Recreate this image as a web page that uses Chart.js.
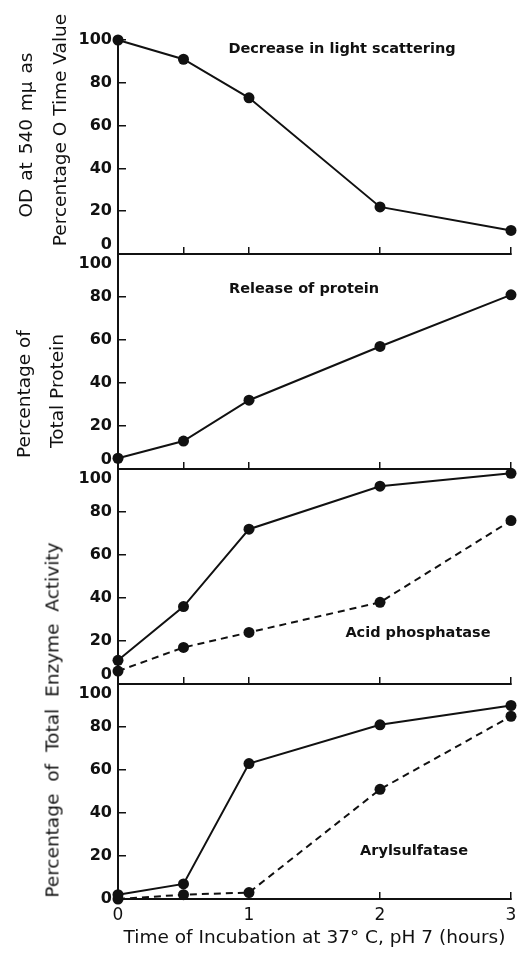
<!DOCTYPE html>
<html>
<head>
<meta charset="utf-8">
<script src="https://cdn.jsdelivr.net/npm/chart.js@4.4.1/dist/chart.umd.min.js"></script>
<style>
  html, body { margin: 0; padding: 0; background: #fff; }
  #wrap { position: relative; width: 524px; height: 958px; overflow: hidden; }
  #wrap canvas { position: absolute; left: 0; top: 0; }
  .ytitle {
    position: absolute;
    font: 18.5px "DejaVu Sans", sans-serif;
    color: #111;
    white-space: nowrap;
    transform: translate(-50%, -50%) rotate(-90deg);
  }
</style>
</head>
<body>
<div id="wrap">
  <canvas id="p1" width="524" height="958"></canvas>
  <canvas id="p2" width="524" height="958"></canvas>
  <canvas id="p3" width="524" height="958"></canvas>
  <canvas id="p4" width="524" height="958"></canvas>
  <div class="ytitle" style="left:25px; top:135px; word-spacing:2px">OD at 540 mμ as</div>
  <div class="ytitle" style="left:59px; top:130px">Percentage O Time Value</div>
  <div class="ytitle" style="left:23px; top:394px">Percentage of</div>
  <div class="ytitle" style="left:56px; top:391px">Total Protein</div>
  <div class="ytitle" style="left:52px; top:720px; word-spacing:6px">Percentage of Total Enzyme Activity</div>
</div>
<script>
// ========== DATA ==========
const hours = [0, 0.5, 1, 2, 3];
const xTicks = [0, 0.5, 1, 2, 3];
const xTickLabels = ['0', '', '1', '2', '3'];

const lightScattering = [100, 91, 73, 22, 11];
const proteinReleased = [5, 13, 32, 57, 81];
const acidPhosSolid = [11, 36, 72, 92, 98];
const acidPhosDashed = [6, 17, 24, 38, 76];
const arylSolid = [2, 7, 63, 81, 90];
const arylDashed = [0, 2, 3, 51, 85];

// ========== HELPERS ==========
Chart.defaults.font.family = "'DejaVu Sans', sans-serif";
Chart.defaults.color = '#111';

const INK = '#111';
const W = 524, H = 958;
const LEFT = 118, RIGHT = 511;

// text written inside a panel, placed at data coordinates
const notesPlugin = {
  id: 'notes',
  afterDatasetsDraw(chart, args, opts) {
    if (!opts.text) return;
    const { ctx, scales: { x, y } } = chart;
    ctx.save();
    ctx.font = 'bold 14.5px "DejaVu Sans"';
    ctx.fillStyle = INK;
    ctx.textAlign = 'center';
    ctx.textBaseline = 'middle';
    ctx.fillText(opts.text, x.getPixelForValue(opts.x), y.getPixelForValue(opts.y));
    ctx.restore();
  }
};

function series(values, dashed) {
  return {
    data: hours.map((h, i) => ({ x: h, y: values[i] })),
    borderColor: INK,
    backgroundColor: INK,
    borderWidth: 2,
    borderDash: dashed ? [7, 5] : [],
    pointRadius: 5.5,
    pointHoverRadius: 5.5,
    pointBorderWidth: 0,
    tension: 0,
    clip: false
  };
}

// make one stacked panel; top/bottom are pixel rows of the plot area
function makePanel(id, top, bottom, datasets, note, opts) {
  const isLast = !!opts.last;
  const xHeight = isLast ? H - bottom : 0;
  new Chart(document.getElementById(id), {
    type: 'line',
    data: { datasets },
    options: {
      responsive: false,
      animation: false,
      events: [],
      layout: { padding: { top: top, left: 0, right: W - RIGHT, bottom: H - bottom - xHeight } },
      plugins: { legend: { display: false }, tooltip: { enabled: false }, notes: note },
      scales: {
        x: {
          type: 'linear',
          min: 0,
          max: 3,
          afterBuildTicks: s => { s.ticks = xTicks.map(v => ({ value: v })); },
          afterFit: s => {
            s.height = xHeight;
            s.paddingLeft = 0;
            s.paddingRight = 0;
          },
          border: { display: true, color: INK, width: 2 },
          grid: { drawOnChartArea: false, drawTicks: true, tickLength: -7, color: INK, lineWidth: 1.5 },
          ticks: {
            padding: 13,
            color: INK,
            font: { size: 17 },
            maxRotation: 0,
            autoSkip: false,
            callback: (v, i) => isLast ? xTickLabels[i] : ''
          },
          title: {
            display: isLast,
            text: 'Time of Incubation at 37° C, pH 7 (hours)',
            color: INK,
            font: { size: 18.5 },
            padding: { top: 0, bottom: 9 }
          }
        },
        y: {
          min: 0,
          max: 100,
          afterFit: s => { s.width = LEFT; },
          border: { display: true, color: INK, width: 2 },
          grid: { drawOnChartArea: false, drawTicks: true, tickLength: -8, color: INK, lineWidth: 1.5 },
          ticks: {
            stepSize: 20,
            padding: 14,
            color: INK,
            font: { size: 16, weight: 'bold' },
            callback: v => {
              // nudge the labels that meet the next panel apart
              if (v === 100 && opts.shiftTop) return ['', '100'];
              if (v === 0 && opts.shiftBottom) return ['0', ''];
              return String(v);
            }
          }
        }
      }
    },
    plugins: [notesPlugin]
  });
}

makePanel('p1', 40, 254, [series(lightScattering, false)],
  { text: 'Decrease in light scattering', x: 1.71, y: 95.5 },
  { shiftBottom: true });

makePanel('p2', 254, 469, [series(proteinReleased, false)],
  { text: 'Release of protein', x: 1.42, y: 83.5 },
  { shiftTop: true, shiftBottom: true });

makePanel('p3', 469, 684, [series(acidPhosSolid, false), series(acidPhosDashed, true)],
  { text: 'Acid phosphatase', x: 2.29, y: 23.5 },
  { shiftTop: true, shiftBottom: true });

makePanel('p4', 684, 899, [series(arylSolid, false), series(arylDashed, true)],
  { text: 'Arylsulfatase', x: 2.26, y: 22 },
  { shiftTop: true, last: true });
</script>
</body>
</html>
